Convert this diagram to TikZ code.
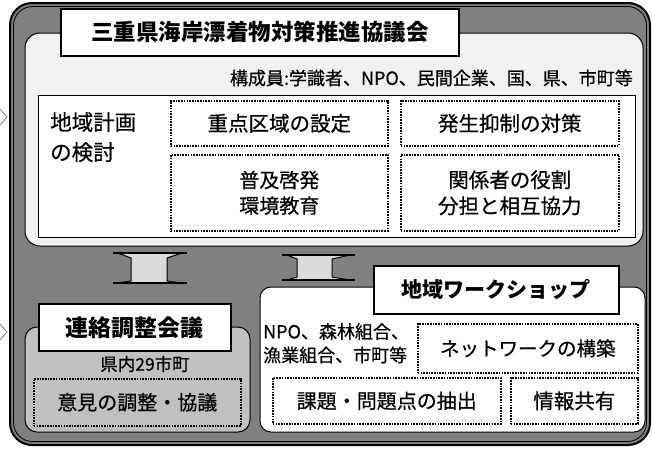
\documentclass[tikz,border=0pt]{standalone}
\usepackage{fontspec}
\setmainfont{Noto Sans CJK JP}
\newfontfamily\medjp{Noto Sans CJK JP}[FakeBold=0.6]
\definecolor{framegray}{HTML}{808080}
\definecolor{paleg}{HTML}{F1F1F1}
\definecolor{midg}{HTML}{C0C0C0}
\definecolor{arrowg}{HTML}{DADADA}
\tikzset{
  dotbox/.style={draw, line width=1.6pt, dash pattern=on 1.6pt off 1.1pt, inner sep=0pt, anchor=north west, align=center},
  titlebox/.style={draw, fill=white, line width=1.6pt, inner sep=0pt, anchor=north west},
  plain/.style={inner sep=0pt, align=left},
  spool/.style={draw=black, line width=1pt, fill=arrowg},
  flange/.style={line width=2.2pt, line cap=butt}
}
\begin{document}
\begin{tikzpicture}[x=1pt,y=-1pt]
\useasboundingbox (0,0) rectangle (652,448);
% left clipped chevrons
\draw[line width=0.8pt, gray] (0,109) -- (7,117) -- (0,125);
\draw[line width=0.8pt, gray] (0,324) -- (7,332) -- (0,340);
% outer frame
\draw[line width=2pt, fill=framegray, rounded corners=22pt] (10,3) rectangle (650,445);
\draw[line width=0.8pt, rounded corners=19pt] (13.5,6.5) rectangle (646.5,441.5);
% upper council area
\draw[line width=1pt, fill=paleg, rounded corners=15pt] (25,33) rectangle (643,246);
\node[titlebox, minimum width=398pt, minimum height=47pt, font=\fontsize{22.5}{26}\selectfont\bfseries] (council) at (60,8) {三重県海岸漂着物対策推進協議会};
\node[plain, anchor=east, font=\medjp\fontsize{18}{20}\selectfont] (members) at (633,78) {構成員:学識者、NPO、民間企業、国、県、市町等};
\node[draw, fill=white, line width=1.2pt, minimum width=597pt, minimum height=142pt, anchor=north west, inner sep=0pt] (plan) at (38,95) {};
\node[plain, anchor=north west, font=\medjp\fontsize{21.5}{30}\selectfont] (plantxt) at (50,112) {地域計画\\の検討};
\node[dotbox, minimum width=217pt, minimum height=45pt, font=\medjp\fontsize{20.5}{25}\selectfont] (zone) at (170,100) {重点区域の設定};
\node[dotbox, minimum width=218pt, minimum height=45pt, font=\medjp\fontsize{20.5}{25}\selectfont] (prevent) at (400,100) {発生抑制の対策};
\node[dotbox, minimum width=217pt, minimum height=76pt, font=\medjp\fontsize{20}{25.5}\selectfont] (edu) at (170,154) {普及啓発\\環境教育};
\node[dotbox, minimum width=218pt, minimum height=76pt, font=\medjp\fontsize{20.5}{26}\selectfont] (roles) at (400,154) {関係者の役割\\分担と相互協力};
% connecting arrows
\draw[spool] (118,253) -- (182,253) -- (167,258) -- (167,281) -- (182,283) -- (118,283) -- (131,281) -- (131,258) -- cycle;
\draw[flange] (113,253) -- (187,253);
\draw[flange] (113,283) -- (187,283);
\draw[spool] (287,255) -- (350,255) -- (332,259) -- (332,277) -- (350,280) -- (287,280) -- (297,277) -- (297,259) -- cycle;
\draw[flange] (282,255) -- (355,255);
\draw[flange] (282,280) -- (355,280);
% liaison meeting
\draw[line width=1pt, fill=midg, rounded corners=12pt] (25,327) rectangle (250,432);
\node[titlebox, minimum width=192pt, minimum height=47pt, font=\fontsize{23}{26}\selectfont\bfseries] (liaison) at (38,303) {連絡調整会議};
\node[plain, font=\medjp\fontsize{17.5}{20}\selectfont] (munis) at (145,364) {県内29市町};
\node[dotbox, minimum width=207pt, minimum height=47pt, font=\medjp\fontsize{20}{24}\selectfont] (adjust) at (33,378) {意見の調整・協議};
% regional workshop
\draw[line width=1pt, fill=white, rounded corners=11pt] (260,287) rectangle (645,432);
\node[titlebox, minimum width=245pt, minimum height=48pt, font=\fontsize{21}{24}\selectfont\bfseries] (workshop) at (373,265) {地域ワークショップ};
\node[plain, anchor=north west, font=\medjp\fontsize{18}{23.5}\selectfont] (npo) at (263,323) {NPO、森林組合、\\漁業組合、市町等};
\node[dotbox, minimum width=220pt, minimum height=49pt, font=\medjp\fontsize{19.5}{24}\selectfont] (network) at (417,323) {ネットワークの構築};
\node[dotbox, minimum width=228pt, minimum height=46pt, font=\medjp\fontsize{20}{24}\selectfont] (issues) at (272,377) {課題・問題点の抽出};
\node[dotbox, minimum width=127pt, minimum height=46pt, font=\medjp\fontsize{20.5}{24}\selectfont] (share) at (510,377) {情報共有};
\end{tikzpicture}
\end{document}
